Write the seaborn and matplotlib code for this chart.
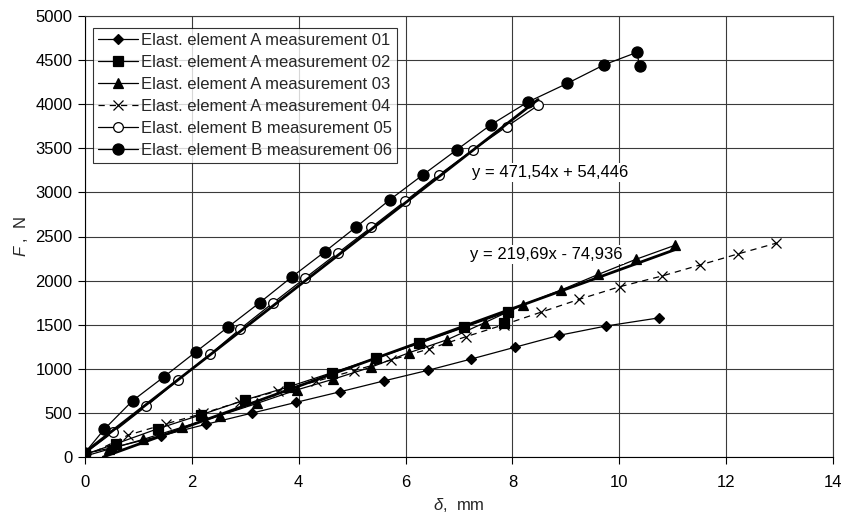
import numpy as np
import pandas as pd
import matplotlib
matplotlib.use("Agg")
import matplotlib.pyplot as plt
import seaborn as sns

# ---- data ----
x01 = [0, 0.55, 1.42, 2.26, 3.12, 3.94, 4.77, 5.59, 6.42, 7.23, 8.05, 8.88, 9.75, 10.75]
y01 = [40, 110, 240, 370, 497, 618, 739, 862, 983, 1111, 1245, 1380, 1485, 1578]

x02 = [0, 0.58, 1.36, 2.18, 2.99, 3.81, 4.62, 5.44, 6.26, 7.10, 7.91, 7.85]
y02 = [30, 150, 320, 480, 646, 795, 956, 1119, 1289, 1470, 1645, 1515]

x03 = [0, 0.44, 1.09, 1.81, 2.52, 3.22, 3.96, 4.64, 5.36, 6.07, 6.78, 7.48, 8.19, 8.91, 9.61, 10.31, 11.04]
y03 = [10, 87, 200, 336, 469, 608, 760, 881, 1020, 1183, 1330, 1523, 1723, 1893, 2071, 2241, 2400]

x04 = [0, 0.81, 1.51, 2.21, 2.90, 3.61, 4.32, 5.03, 5.73, 6.44, 7.13, 7.84, 8.54, 9.25, 10.01, 10.80, 11.51, 12.22, 12.93]
y04 = [5, 249, 375, 495, 627, 750, 857, 979, 1100, 1225, 1364, 1500, 1643, 1788, 1931, 2052, 2177, 2302, 2423]

x05 = [0, 0.53, 1.15, 1.74, 2.34, 2.91, 3.51, 4.12, 4.74, 5.36, 5.99, 6.62, 7.26, 7.89, 8.48]
y05 = [42, 283, 578, 873, 1164, 1455, 1743, 2029, 2317, 2605, 2900, 3197, 3481, 3745, 3987]

x06 = [0, 0.36, 0.89, 1.48, 2.07, 2.67, 3.27, 3.87, 4.49, 5.08, 5.70, 6.32, 6.96, 7.60, 8.29, 9.03, 9.72, 10.33, 10.38]
y06 = [50, 314, 638, 910, 1190, 1470, 1750, 2041, 2328, 2611, 2914, 3197, 3484, 3768, 4025, 4237, 4448, 4588, 4430]

labels = ["Elast. element A measurement 01", "Elast. element A measurement 02",
          "Elast. element A measurement 03", "Elast. element A measurement 04",
          "Elast. element B measurement 05", "Elast. element B measurement 06"]

# trendlines (slope, intercept)
trendB = (471.54, 54.446)
trendA = (219.69, -74.936)
eqB = "y = 471,54x + 54,446"
eqA = "y = 219,69x - 74,936"

x_ticks = [0, 2, 4, 6, 8, 10, 12, 14]
y_ticks = [0, 500, 1000, 1500, 2000, 2500, 3000, 3500, 4000, 4500, 5000]

# ---- style ----
sns.set_theme(style="white")
plt.rcParams['font.family'] = ['Liberation Sans', 'DejaVu Sans']
plt.rcParams['mathtext.fontset'] = 'custom'
plt.rcParams['mathtext.rm'] = 'Liberation Sans'
plt.rcParams['mathtext.it'] = 'Liberation Sans:italic'

FS = 12

fig = plt.figure(figsize=(8.42, 5.18), dpi=100)
ax = fig.add_axes([85/842, 1-457/518, (833-85)/842, (457-16)/518])

series = [
    (x01, y01, dict(marker='D', markersize=5.5, markerfacecolor='black', linestyle='-')),
    (x02, y02, dict(marker='s', markersize=7, markerfacecolor='black', linestyle='-')),
    (x03, y03, dict(marker='^', markersize=7, markerfacecolor='black', linestyle='-')),
    (x04, y04, dict(marker='x', markersize=7, markerfacecolor='black', linestyle=(0, (5, 4)))),
    (x05, y05, dict(marker='o', markersize=7, markerfacecolor='white', linestyle='-')),
    (x06, y06, dict(marker='o', markersize=8, markerfacecolor='black', linestyle='-')),
]

for (xs, ys, kw), lab in zip(series, labels):
    df = pd.DataFrame({'x': xs, 'y': ys})
    sns.lineplot(data=df, x='x', y='y', ax=ax, sort=False, estimator=None,
                 color='black', linewidth=0.9, markeredgecolor='black',
                 markeredgewidth=0.9, label=lab, **kw)

# trendlines
xb = np.array([min(x05), max(x05)])
ax.plot(xb, trendB[0]*xb + trendB[1], color='black', lw=2.0, label='_nolegend_')
xa = np.array([max(min(x03), -trendA[1]/trendA[0]), max(x03)])
ax.plot(xa, trendA[0]*xa + trendA[1], color='black', lw=2.0, label='_nolegend_')

box = dict(facecolor='white', edgecolor='none', pad=1.5)
ax.text(7.25, 3230, eqB, fontsize=FS, va='center', ha='left', color='black', bbox=box, zorder=5)
ax.text(7.2, 2300, eqA, fontsize=FS, va='center', ha='left', color='black', bbox=box, zorder=5)

ax.set_xlim(0, 14)
ax.set_ylim(0, 5000)
ax.set_xticks(x_ticks)
ax.set_yticks(y_ticks)
ax.grid(True, color='#3a3a3a', linewidth=0.8)
ax.set_axisbelow(True)
for s in ax.spines.values():
    s.set_color('#3a3a3a')
    s.set_linewidth(0.8)
ax.spines['left'].set_color('black')
ax.spines['bottom'].set_color('black')
ax.tick_params(axis='both', direction='out', length=5, width=0.8, color='black',
               labelsize=FS, labelcolor='black', left=True, bottom=True)
ax.tick_params(axis='x', pad=8)
ax.tick_params(axis='y', pad=4)

ax.set_xlabel(r'$\mathit{\delta}$,  mm', fontsize=FS, labelpad=4)
ax.set_ylabel(r'$\mathit{F}$ ,  N', fontsize=FS, labelpad=4)

leg = ax.legend(loc='upper left', bbox_to_anchor=(8/748, (457-28)/441), borderaxespad=0,
                frameon=True, fancybox=False, edgecolor='black', fontsize=FS,
                handlelength=2.4, labelspacing=0.42, borderpad=0.3, handletextpad=0.2)
leg.get_frame().set_linewidth(0.8)
leg.set_zorder(10)

fig.savefig('out.png', dpi=100)
